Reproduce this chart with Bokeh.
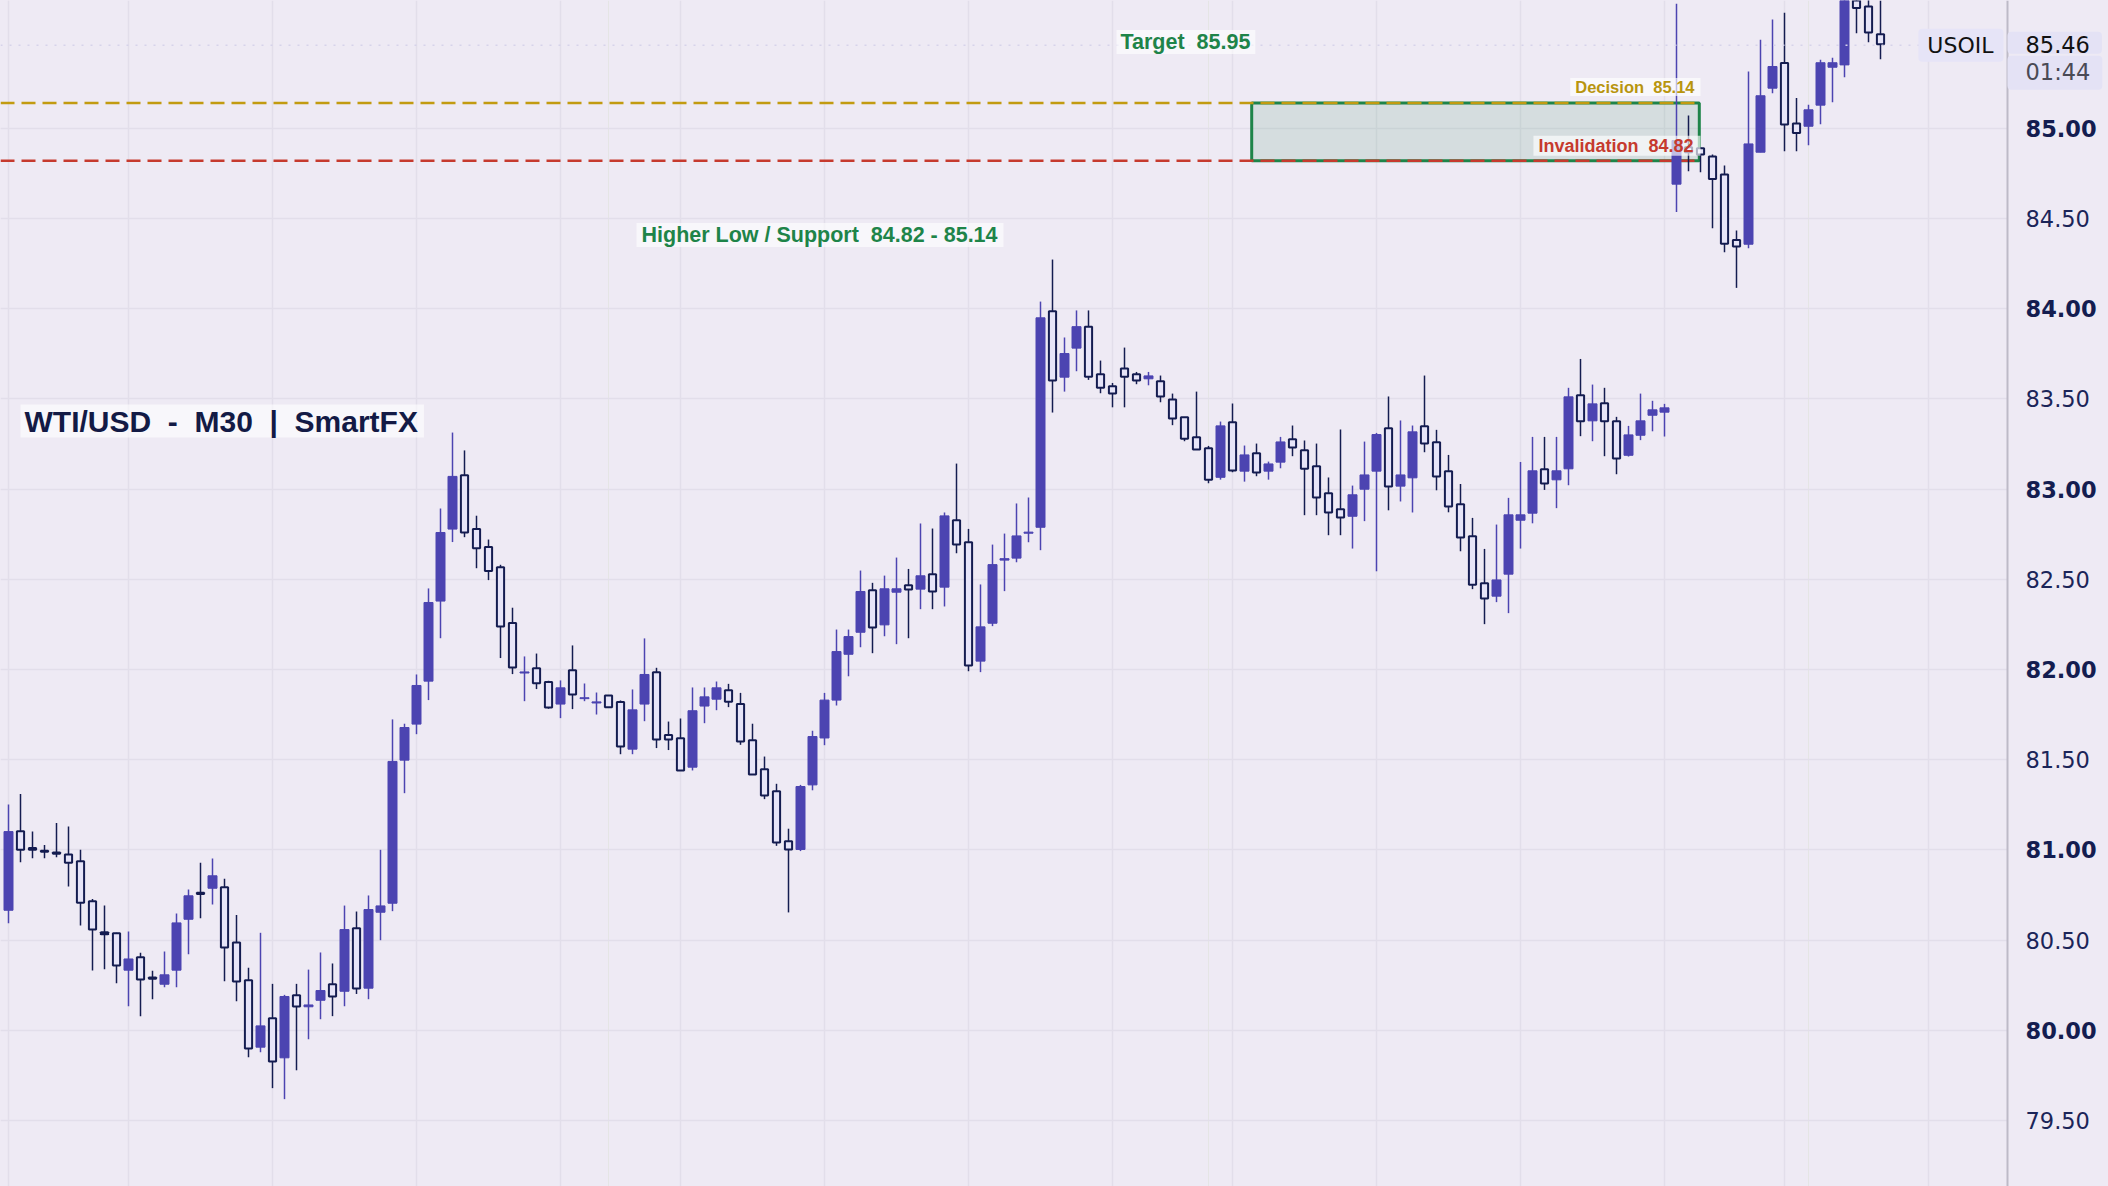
import numpy as np
from bokeh.plotting import figure
from bokeh.models import (ColumnDataSource, FixedTicker, Label, Span, Range1d,
                          Grid, BoxAnnotation)
from bokeh.core.properties import value
from bokeh.embed import file_html
from bokeh.resources import INLINE

# ---------------- data ----------------
opens = [80.665, 81.103, 81.010, 80.995, 80.985, 80.974, 80.937, 80.715, 80.543, 80.538,
         80.333, 80.405, 80.292, 80.255, 80.333, 80.615, 80.762, 80.787, 80.793, 80.486,
         80.277, 79.906, 80.067, 79.847, 80.194, 80.130, 80.166, 80.255, 80.216, 80.565,
         80.233, 80.654, 80.704, 81.497, 81.697, 81.935, 82.379, 82.778, 83.077, 82.778,
         82.678, 82.567, 82.257, 81.980, 82.007, 81.930, 81.808, 81.996, 81.838, 81.814,
         81.856, 81.819, 81.558, 81.808, 81.985, 81.636, 81.619, 81.458, 81.797, 81.835,
         81.885, 81.808, 81.608, 81.447, 81.325, 81.048, 81.002, 81.360, 81.620, 81.830,
         82.084, 82.206, 82.439, 82.247, 82.428, 82.467, 82.445, 82.528, 82.456, 82.827,
         82.705, 82.046, 82.256, 82.606, 82.617, 82.755, 82.788, 83.986, 83.620, 83.781,
         83.900, 83.636, 83.570, 83.668, 83.636, 83.611, 83.598, 83.496, 83.398, 83.287,
         83.226, 83.065, 83.370, 83.099, 83.198, 83.099, 83.149, 83.276, 83.215, 83.126,
         82.977, 82.888, 82.849, 82.999, 83.099, 83.337, 83.016, 83.062, 83.348, 83.259,
         83.099, 82.916, 82.738, 82.478, 82.406, 82.528, 82.827, 82.866, 83.110, 83.051,
         83.112, 83.520, 83.378, 83.476, 83.376, 83.187, 83.298, 83.409, 83.426, 84.690,
         84.895, 84.889, 84.843, 84.744, 84.381, 84.357, 84.867, 85.222, 85.362, 85.026,
         85.011, 85.128, 85.338, 85.351, 85.760, 85.675, 85.521]
highs = [81.251, 81.310, 81.101, 81.027, 81.149, 81.129, 81.000, 80.728, 80.691, 80.540,
         80.547, 80.429, 80.329, 80.436, 80.647, 80.780, 80.928, 80.952, 80.839, 80.639,
         80.346, 80.540, 80.257, 80.196, 80.257, 80.336, 80.431, 80.370, 80.691, 80.658,
         80.747, 81.000, 81.723, 81.699, 81.972, 82.449, 82.892, 83.313, 83.214, 82.852,
         82.720, 82.580, 82.342, 82.072, 82.088, 81.937, 81.939, 82.133, 81.922, 81.872,
         81.856, 81.828, 81.889, 82.172, 82.009, 81.711, 81.728, 81.900, 81.900, 81.933,
         81.920, 81.870, 81.699, 81.517, 81.366, 81.117, 81.360, 81.660, 81.870, 82.221,
         82.221, 82.548, 82.480, 82.520, 82.620, 82.557, 82.809, 82.781, 82.870, 83.141,
         82.779, 82.471, 82.692, 82.753, 82.920, 82.953, 84.039, 84.272, 83.840, 83.990,
         83.990, 83.712, 83.588, 83.784, 83.649, 83.649, 83.629, 83.529, 83.398, 83.540,
         83.239, 83.374, 83.474, 83.241, 83.252, 83.152, 83.289, 83.352, 83.269, 83.252,
         83.064, 83.330, 83.019, 83.263, 83.311, 83.513, 83.380, 83.352, 83.629, 83.328,
         83.189, 83.028, 82.840, 82.668, 82.803, 82.951, 83.150, 83.289, 83.289, 83.289,
         83.561, 83.721, 83.579, 83.561, 83.400, 83.350, 83.529, 83.489, 83.472, 85.690,
         85.071, 84.895, 84.854, 84.793, 84.433, 85.314, 85.490, 85.603, 85.640, 85.168,
         85.130, 85.379, 85.390, 85.850, 85.800, 85.740, 85.708]
lows = [80.593, 80.931, 80.953, 80.953, 80.959, 80.796, 80.580, 80.331, 80.338, 80.261,
        80.133, 80.078, 80.172, 80.238, 80.238, 80.421, 80.621, 80.697, 80.272, 80.161,
        79.850, 79.878, 79.679, 79.618, 79.778, 79.950, 80.061, 80.078, 80.133, 80.201,
        80.172, 80.499, 80.660, 81.314, 81.641, 81.830, 82.173, 82.706, 82.733, 82.561,
        82.495, 82.063, 81.974, 81.824, 81.891, 81.782, 81.730, 81.780, 81.824, 81.750,
        81.791, 81.530, 81.530, 81.713, 81.564, 81.553, 81.440, 81.440, 81.702, 81.774,
        81.791, 81.582, 81.418, 81.281, 81.022, 80.653, 80.993, 81.330, 81.580, 81.800,
        81.962, 82.123, 82.090, 82.184, 82.140, 82.173, 82.334, 82.334, 82.349, 82.644,
        81.990, 81.985, 82.240, 82.434, 82.594, 82.705, 82.661, 83.424, 83.540, 83.653,
        83.605, 83.531, 83.453, 83.453, 83.581, 83.575, 83.481, 83.354, 83.265, 83.219,
        83.032, 83.052, 83.093, 83.041, 83.071, 83.052, 83.115, 83.182, 82.855, 82.855,
        82.744, 82.744, 82.670, 82.822, 82.544, 82.882, 82.931, 82.870, 83.204, 82.993,
        82.871, 82.655, 82.445, 82.251, 82.373, 82.312, 82.670, 82.810, 82.995, 82.894,
        83.021, 83.293, 83.265, 83.182, 83.082, 83.180, 83.271, 83.320, 83.291, 84.535,
        84.762, 84.756, 84.446, 84.313, 84.115, 84.335, 84.867, 85.194, 84.873, 84.873,
        84.906, 85.022, 85.144, 85.283, 85.527, 85.477, 85.383]
closes = [81.101, 81.000, 81.000, 80.990, 80.978, 80.929, 80.706, 80.558, 80.532, 80.359,
          80.395, 80.281, 80.285, 80.307, 80.595, 80.745, 80.755, 80.856, 80.458, 80.270,
          79.898, 80.024, 79.826, 80.187, 80.131, 80.140, 80.220, 80.187, 80.558, 80.231,
          80.669, 80.689, 81.490, 81.678, 81.911, 82.371, 82.759, 83.070, 82.759, 82.672,
          82.545, 82.238, 82.011, 81.986, 81.924, 81.789, 81.898, 81.861, 81.843, 81.820,
          81.791, 81.573, 81.776, 81.972, 81.612, 81.612, 81.440, 81.771, 81.848, 81.898,
          81.821, 81.601, 81.418, 81.301, 81.041, 81.002, 81.351, 81.628, 81.830, 82.099,
          82.182, 82.432, 82.232, 82.447, 82.447, 82.443, 82.519, 82.432, 82.851, 82.692,
          82.022, 82.236, 82.581, 82.614, 82.740, 82.761, 83.949, 83.601, 83.751, 83.900,
          83.623, 83.562, 83.529, 83.623, 83.601, 83.627, 83.513, 83.391, 83.278, 83.219,
          83.052, 83.350, 83.102, 83.189, 83.091, 83.139, 83.261, 83.230, 83.113, 82.953,
          82.870, 82.842, 82.968, 83.078, 83.302, 83.014, 83.078, 83.317, 83.252, 83.069,
          82.903, 82.731, 82.470, 82.393, 82.496, 82.857, 82.857, 83.101, 83.030, 83.101,
          83.511, 83.376, 83.472, 83.376, 83.169, 83.300, 83.378, 83.439, 83.450, 84.932,
          84.867, 84.854, 84.719, 84.359, 84.344, 84.913, 85.180, 85.342, 85.021, 84.973,
          85.102, 85.363, 85.363, 85.780, 85.666, 85.531, 85.466]

price_ticks_half = [79.5, 80.5, 81.5, 82.5, 83.5, 84.5]
price_ticks_whole = [80.0, 81.0, 82.0, 83.0, 84.0, 85.0]
price_labels_half = ["79.50", "80.50", "81.50", "82.50", "83.50", "84.50"]
price_labels_whole = ["80.00", "81.00", "82.00", "83.00", "84.00", "85.00"]
time_grid_idx = [0, 10, 22, 34, 46, 56, 68, 80, 92, 102, 114, 126, 138, 148, 160]

SP2 = " \u00a0"   # visible double space
title_text = f"WTI/USD{SP2}-{SP2}M30{SP2}|{SP2}SmartFX"
symbol = "USOIL"
last_price = 85.46
countdown = "01:44"
target_price = 85.95
decision_level = 85.14
invalidation_level = 84.82
zone_start_idx = 103.6
zone_end_idx = 140.9

# ---------------- style / layout ----------------
BG = "#EEEAF4"
GRID = "#E2DEEA"
PURPLE = "#4C44B1"
NAVY = "#141C50"
HOLLOW = "#E6E4F8"
GREEN = "#1E8449"
GOLD = "#C29B10"
GOLD_TXT = "#B8950E"
RED = "#C63A2E"
AXIS_TXT = "#1B2559"

W, H = 2108, 1186
AXIS_PX = 2007       # x of the price-scale border
STEP = 12.0          # px per candle
PX_PER_UNIT = 180.4  # px per 1.00 of price
X0_PX = 8.0
Y_TOP = 85.708

x_start = -X0_PX / STEP
x_end = x_start + W / STEP
y_start = Y_TOP - H / PX_PER_UNIT


def px_x(px):
    return x_start + px / STEP


x_border = px_x(AXIS_PX)
label_x = px_x(AXIS_PX + 18)

p = figure(width=W, height=H,
           x_range=Range1d(x_start, x_end), y_range=Range1d(y_start, Y_TOP),
           output_backend="svg", toolbar_location=None,
           x_axis_location=None, y_axis_location=None,
           min_border=0, min_border_left=0, min_border_right=0,
           min_border_top=0, min_border_bottom=0,
           background_fill_color=BG, border_fill_color=BG, outline_line_color=None)

# grids
p.add_layout(Grid(dimension=1, ticker=FixedTicker(ticks=sorted(price_ticks_half + price_ticks_whole)),
                  grid_line_color=GRID, grid_line_width=1.5))
p.add_layout(Grid(dimension=0, ticker=FixedTicker(ticks=time_grid_idx),
                  grid_line_color=GRID, grid_line_width=1.5))
# price-scale panel background (hides grid there) and its border
p.add_layout(BoxAnnotation(left=x_border, fill_color=BG, fill_alpha=1.0,
                           line_color=None, level="underlay"))
p.add_layout(Span(location=x_border, dimension="height", line_color="#BDBAC7",
                  line_width=2, level="underlay"))

# zone + levels
p.quad(left=[zone_start_idx], right=[zone_end_idx], bottom=[invalidation_level],
       top=[decision_level], fill_color=GREEN, fill_alpha=0.12,
       line_color=GREEN, line_width=3)
p.line(x=[x_start, zone_end_idx], y=[decision_level, decision_level],
       line_color=GOLD, line_width=2.5, line_dash="14 7")
p.line(x=[x_start, zone_end_idx], y=[invalidation_level, invalidation_level],
       line_color=RED, line_width=2.5, line_dash="14 7")

# candles
o = np.array(opens); h = np.array(highs); l = np.array(lows); c = np.array(closes)
idx = np.arange(len(o))
up = c >= o
dn = ~up
src_up = ColumnDataSource(dict(x=idx[up], o=o[up], h=h[up], l=l[up], c=c[up]))
src_dn = ColumnDataSource(dict(x=idx[dn], o=o[dn], h=h[dn], l=l[dn], c=c[dn]))
p.segment(x0="x", y0="l", x1="x", y1="h", source=src_up, line_color=PURPLE, line_width=1.5)
p.vbar(x="x", width=0.75, bottom="o", top="c", source=src_up,
       fill_color=PURPLE, line_color=PURPLE, line_width=1)
p.segment(x0="x", y0="l", x1="x", y1="h", source=src_dn, line_color=NAVY, line_width=1.5)
p.vbar(x="x", width=0.6, bottom="c", top="o", source=src_dn,
       fill_color=HOLLOW, line_color=NAVY, line_width=2)

# current price dotted line (plot area only)
p.line(x=[x_start, x_border], y=[last_price, last_price], line_color="#D6D3EA",
       line_width=1.5, line_dash="2 7")

# price scale labels
p.text(x=[label_x] * len(price_ticks_half), y=price_ticks_half, text=price_labels_half,
       text_font=value("DejaVu Sans"), text_font_size="22.5px", text_color=AXIS_TXT,
       text_align="left", text_baseline="middle")
p.text(x=[label_x] * len(price_ticks_whole), y=price_ticks_whole, text=price_labels_whole,
       text_font=value("DejaVu Sans"), text_font_size="22.5px", text_font_style="bold",
       text_color="#141D50", text_align="left", text_baseline="middle")

LBL_FONT = "Liberation Sans"
# padding tuples below are (left, right, top, bottom)
p.add_layout(Label(x=px_x(20), y=83.377, text=title_text, text_font=LBL_FONT,
                   text_font_size="30px", text_font_style="bold", text_color="#131A45",
                   text_baseline="middle", background_fill_color="white",
                   background_fill_alpha=0.6, padding=(4, 6, 0, 0)))
p.add_layout(Label(x=px_x(636), y=84.408,
                   text=f"Higher Low / Support{SP2}{invalidation_level:.2f} - {decision_level:.2f}",
                   text_font=LBL_FONT, text_font_size="21.5px", text_font_style="bold",
                   text_color=GREEN, text_baseline="middle", background_fill_color="white",
                   background_fill_alpha=0.6, padding=(5, 6, 0, 0)))
p.add_layout(Label(x=px_x(1116), y=85.472, y_offset=1, text=f"Target{SP2}{target_price:.2f}",
                   text_font=LBL_FONT, text_font_size="21.5px", text_font_style="bold",
                   text_color=GREEN, text_baseline="middle", background_fill_color="white",
                   background_fill_alpha=0.6, padding=(4, 5, 0, 0)))
p.add_layout(Label(x=px_x(1700), y=decision_level, y_offset=16,
                   text=f"Decision{SP2}{decision_level:.2f}",
                   text_font=LBL_FONT, text_font_size="16.5px", text_font_style="bold",
                   text_color=GOLD_TXT, text_align="right", text_baseline="middle",
                   background_fill_color="white", background_fill_alpha=0.65,
                   padding=(5, 6, 0, 0)))
p.add_layout(Label(x=px_x(1700), y=invalidation_level, y_offset=15,
                   text=f"Invalidation{SP2}{invalidation_level:.2f}",
                   text_font=LBL_FONT, text_font_size="18px", text_font_style="bold",
                   text_color=RED, text_align="right", text_baseline="middle",
                   background_fill_color="white", background_fill_alpha=0.65,
                   padding=(5, 7, 0, 0)))

# symbol tag and last-price tag
p.add_layout(Label(x=px_x(2003), y=last_price, text=symbol, text_font="DejaVu Sans",
                   text_font_size="22px", text_color="#111111", text_align="right",
                   text_baseline="middle", background_fill_color="#E6E4F7",
                   padding=(9, 10, 4, 4), border_radius=4))
p.add_layout(Label(x=px_x(AXIS_PX), y=last_price, y_offset=2.5, text=f"{last_price:.2f}",
                   text_font="DejaVu Sans", text_font_size="22.5px", text_color="#111111",
                   text_align="left", text_baseline="middle",
                   background_fill_color="#E4E2F5", padding=(18, 12, 4, 1), border_radius=4))
p.add_layout(Label(x=px_x(AXIS_PX), y=last_price, y_offset=-27.5, text=countdown,
                   text_font="DejaVu Sans", text_font_size="22.5px", text_color="#4A4A55",
                   text_align="left", text_baseline="middle",
                   background_fill_color="#E4E2F5", padding=(18, 12, 3, 5), border_radius=4))

template = """{% block postamble %}<style>html, body { margin: 0 !important; padding: 0 !important; overflow: hidden; background: #EEEAF4; }</style>{% endblock %}"""
open("out.html", "w").write(file_html(p, INLINE, title="WTI/USD M30", template=template))
